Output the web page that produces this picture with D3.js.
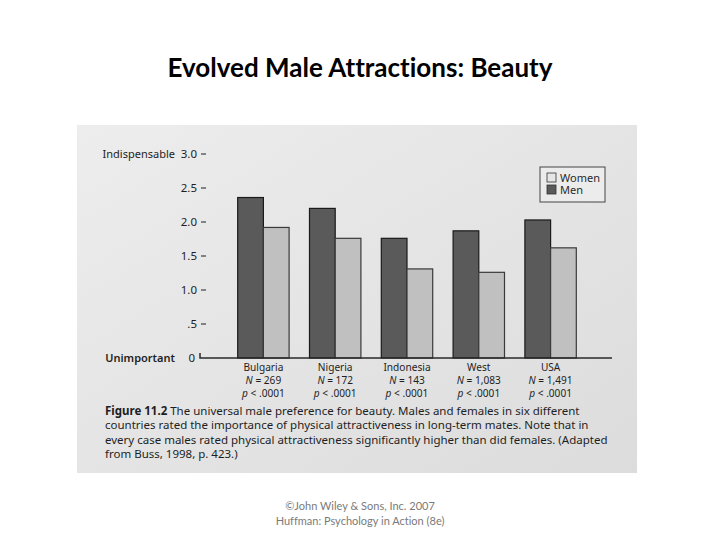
<!DOCTYPE html>
<html>
<head>
<meta charset="utf-8">
<script src="https://cdn.jsdelivr.net/npm/d3@7"></script>
<style>
  body { margin: 0; background: #fff; }
  svg { display: block; }
  text { font-variant-ligatures: none; }
</style>
</head>
<body>
<svg width="720" height="540"></svg>
<script>
// data
var countries = ["Bulgaria", "Nigeria", "Indonesia", "West", "USA"];
var menValues = [2.36, 2.20, 1.76, 1.87, 2.03];
var womenValues = [1.92, 1.76, 1.31, 1.26, 1.62];
var sampleSizes = ["269", "172", "143", "1,083", "1,491"];
var pValues = [".0001", ".0001", ".0001", ".0001", ".0001"];
var yTicks = [0, 0.5, 1, 1.5, 2, 2.5, 3];
var yTickLabels = ["0", ".5", "1.0", "1.5", "2.0", "2.5", "3.0"];
var seriesNames = ["Women", "Men"];
var captionLines = [
    "The universal male preference for beauty. Males and females in six different",
    "countries rated the importance of physical attractiveness in long-term mates. Note that in",
    "every case males rated physical attractiveness significantly higher than did females. (Adapted",
    "from Buss, 1998, p. 423.)"
];

var svg = d3.select("svg");
var chartFont = "'Noto Sans', sans-serif";
var ink = "#1e1e1e";

// title
svg.append("text")
    .attr("x", 360).attr("y", 77)
    .attr("text-anchor", "middle")
    .style("font-family", "Lato, sans-serif")
    .style("font-weight", 700)
    .style("font-size", "26px")
    .text("Evolved Male Attractions: Beauty");

// photo of the book page
var defs = svg.append("defs");
var grad = defs.append("linearGradient").attr("id", "paper")
    .attr("x1", 0).attr("y1", 0).attr("x2", 1).attr("y2", 1);
grad.append("stop").attr("offset", 0).attr("stop-color", "#ededed");
grad.append("stop").attr("offset", 1).attr("stop-color", "#dcdcdc");

svg.append("rect")
    .attr("x", 77).attr("y", 125)
    .attr("width", 560).attr("height", 348)
    .attr("fill", "url(#paper)");

var y = d3.scaleLinear().domain([0, 3]).range([358, 154]);
var x = d3.scaleBand().domain(countries).range([237.7, 576.3])
    .paddingInner(0.284).paddingOuter(0);
var xs = d3.scaleBand().domain(["men", "women"]).range([0, x.bandwidth()]);

// y axis ticks (no spine, dash after each label)
var ticks = svg.append("g");
ticks.selectAll("text")
    .data(yTicks)
    .enter()
    .append("text")
    .attr("x", function(d) { return d === 0 ? 195 : 197; })
    .attr("y", function(d) { return y(d) + 4; })
    .attr("text-anchor", "end")
    .style("font-family", chartFont)
    .style("font-size", "11.5px")
    .attr("fill", ink)
    .text(function(d, i) { return yTickLabels[i]; });
ticks.selectAll("line")
    .data(yTicks.filter(function(d) { return d > 0; }))
    .enter()
    .append("line")
    .attr("x1", 201).attr("x2", 206)
    .attr("y1", function(d) { return y(d); })
    .attr("y2", function(d) { return y(d); })
    .attr("stroke", ink).attr("stroke-width", 1);

svg.append("text")
    .attr("x", 175).attr("y", y(3) + 4)
    .attr("text-anchor", "end")
    .style("font-family", chartFont).style("font-size", "11px")
    .attr("fill", ink)
    .text("Indispensable");
svg.append("text")
    .attr("x", 175).attr("y", y(0) + 4)
    .attr("text-anchor", "end")
    .style("font-family", chartFont).style("font-size", "11px")
    .style("font-weight", 600)
    .attr("fill", ink)
    .text("Unimportant");

// bars
var groups = svg.selectAll("g.country")
    .data(countries)
    .enter()
    .append("g")
    .attr("class", "country")
    .attr("transform", function(d) { return "translate(" + x(d) + ",0)"; });

groups.append("rect")
    .attr("x", xs("men"))
    .attr("y", function(d, i) { return y(menValues[i]); })
    .attr("width", xs.bandwidth())
    .attr("height", function(d, i) { return y(0) - y(menValues[i]); })
    .attr("fill", "#5a5a5a")
    .attr("stroke", "#1a1a1a").attr("stroke-width", 1.2);

groups.append("rect")
    .attr("x", xs("women"))
    .attr("y", function(d, i) { return y(womenValues[i]); })
    .attr("width", xs.bandwidth())
    .attr("height", function(d, i) { return y(0) - y(womenValues[i]); })
    .attr("fill", "#c0c0c0")
    .attr("stroke", "#3a3a3a").attr("stroke-width", 1.2);

// baseline
svg.append("path")
    .attr("d", "M200," + (y(0) - 5) + "V" + y(0) + "H612")
    .attr("fill", "none")
    .attr("stroke", "#2a2a2a").attr("stroke-width", 1.5);

// category labels with N and p, centred under each pair, set a bit condensed
var labels = svg.selectAll("g.lab")
    .data(countries)
    .enter()
    .append("g")
    .attr("class", "lab")
    .attr("transform", function(d) { return "translate(" + (x(d) + x.bandwidth() / 2) + ",0) scale(0.88,1)"; })
    .style("font-family", chartFont)
    .style("font-size", "11.5px")
    .attr("fill", ink)
    .attr("text-anchor", "middle");

labels.append("text")
    .attr("y", 371)
    .text(function(d) { return d; });

var nLine = labels.append("text").attr("y", 384);
nLine.append("tspan").style("font-style", "italic").text("N");
nLine.append("tspan").text(function(d, i) { return " = " + sampleSizes[i]; });

var pLine = labels.append("text").attr("y", 397);
pLine.append("tspan").style("font-style", "italic").text("p");
pLine.append("tspan").text(function(d, i) { return " < " + pValues[i]; });

// legend
var legend = svg.append("g").attr("transform", "translate(540,167)");
legend.append("rect")
    .attr("width", 65).attr("height", 35)
    .attr("fill", "#ececec")
    .attr("stroke", "#444").attr("stroke-width", 1);
var legendColors = ["#e6e6e6", "#5a5a5a"];
var legendItems = legend.selectAll("g")
    .data(seriesNames)
    .enter()
    .append("g")
    .attr("transform", function(d, i) { return "translate(7," + (6 + i * 12) + ")"; });
legendItems.append("rect")
    .attr("width", 9).attr("height", 9)
    .attr("fill", function(d, i) { return legendColors[i]; })
    .attr("stroke", "#333").attr("stroke-width", 0.8);
legendItems.append("text")
    .attr("x", 13).attr("y", 8.5)
    .style("font-family", chartFont)
    .style("font-size", "11px")
    .attr("fill", "#2a2a2a")
    .text(function(d) { return d; });

// caption
var caption = svg.append("g")
    .style("font-family", chartFont)
    .style("font-size", "11.5px")
    .attr("fill", ink);
caption.selectAll("text")
    .data(captionLines)
    .enter()
    .append("text")
    .attr("x", 105)
    .attr("y", function(d, i) { return 414.5 + i * 14.5; })
    .each(function(d, i) {
        var t = d3.select(this);
        if (i === 0) {
            t.append("tspan").style("font-weight", 700).text("Figure 11.2 ");
        }
        t.append("tspan").text(d);
    });

// footer
var footer = ["\u00A9John Wiley & Sons, Inc. 2007", "Huffman: Psychology in Action (8e)"];
svg.selectAll("text.foot")
    .data(footer)
    .enter()
    .append("text")
    .attr("class", "foot")
    .attr("x", 360)
    .attr("y", function(d, i) { return 510 + i * 15; })
    .attr("text-anchor", "middle")
    .style("font-family", "Lato, sans-serif")
    .style("font-size", "11px")
    .attr("fill", "#7a7a7a")
    .text(function(d) { return d; });
</script>
</body>
</html>
